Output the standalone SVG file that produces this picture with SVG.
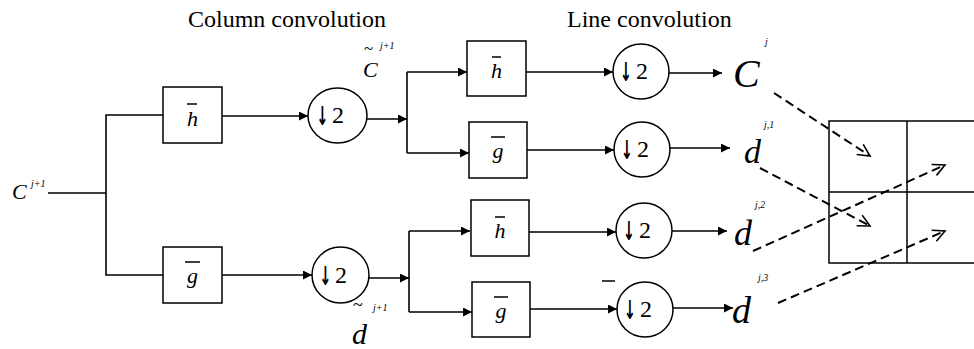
<svg xmlns="http://www.w3.org/2000/svg" width="974" height="349" viewBox="0 0 974 349">
<style>
text{font-family:"Liberation Serif","Times New Roman",serif;fill:#000}
.title{font-size:24px}
.it{font-style:italic}
.sup{font-size:10px;font-style:italic}
.box{fill:#fff;stroke:#000;stroke-width:1.5}
.ds{fill:#fff;stroke:#000;stroke-width:1.5}
.lbl{font-size:22px;font-style:italic}
.dn{font-size:24px}
.arr{font-family:"DejaVu Sans",sans-serif;font-size:26px;font-weight:bold}
.bar{stroke:#000;stroke-width:1.5}
.w{fill:none;stroke:#000;stroke-width:1.6}
.wa{fill:none;stroke:#000;stroke-width:1.6;marker-end:url(#ah)}
.dash{fill:none;stroke:#000;stroke-width:2;stroke-dasharray:9 5;marker-end:url(#oh)}
</style>
<defs>
<marker id="ah" markerUnits="userSpaceOnUse" markerWidth="10" markerHeight="10" refX="9" refY="4.5" orient="auto">
<path d="M0,0 L9,4.5 L0,9 Z" fill="#000"/>
</marker>
<marker id="oh" markerUnits="userSpaceOnUse" markerWidth="16" markerHeight="16" refX="13" refY="7" orient="auto">
<path d="M1,1 L13,7 L1,13" fill="none" stroke="#000" stroke-width="1.6"/>
</marker>
</defs>
<rect width="974" height="349" fill="#fff"/>

<g id="titles">
<text class="title" x="188" y="27">Column convolution</text>
<text class="title" x="567" y="27">Line convolution</text>
</g>

<g id="connectors">
<polyline class="w" points="48,193 106,193"/>
<polyline class="w" points="163,115 106,115 106,275 163,275"/>
<line class="wa" x1="222" y1="116" x2="308" y2="116"/>
<line class="wa" x1="222" y1="275" x2="312" y2="275"/>
<line class="wa" x1="367" y1="119" x2="407" y2="119"/>
<line class="w" x1="407" y1="72" x2="407" y2="153"/>
<line class="wa" x1="407" y1="72" x2="467" y2="72"/>
<line class="wa" x1="407" y1="153" x2="469" y2="153"/>
<line class="wa" x1="369" y1="278" x2="409" y2="278"/>
<line class="w" x1="409" y1="231" x2="409" y2="312"/>
<line class="wa" x1="409" y1="231" x2="470" y2="231"/>
<line class="wa" x1="409" y1="312" x2="472" y2="312"/>
<line class="wa" x1="526" y1="72" x2="613" y2="72"/>
<line class="wa" x1="527" y1="150" x2="614" y2="150"/>
<line class="wa" x1="529" y1="232" x2="616" y2="232"/>
<line class="wa" x1="530" y1="309" x2="617" y2="309"/>
<line class="wa" x1="669" y1="73" x2="722" y2="73"/>
<line class="wa" x1="670" y1="148" x2="730" y2="148"/>
<line class="wa" x1="672" y1="231" x2="727" y2="231"/>
<line class="wa" x1="673" y1="308" x2="733" y2="308"/>
<line class="dash" x1="774" y1="93" x2="870" y2="156"/>
<line class="dash" x1="760" y1="168" x2="870" y2="226"/>
<line class="dash" x1="753" y1="251" x2="945" y2="165"/>
<line class="dash" x1="778" y1="303" x2="945" y2="231"/>
</g>

<g id="input">
<text class="it" x="12" y="199" font-size="22">C</text>
<text class="sup" x="31" y="187">j+1</text>
</g>

<g id="h1">
<rect class="box" x="163" y="87" width="59" height="56"/>
<text class="lbl" x="192.5" y="126" text-anchor="middle">h</text>
<line class="bar" x1="187" y1="104" x2="197" y2="104"/>
</g>
<g id="g1">
<rect class="box" x="163" y="247" width="59" height="56"/>
<text class="lbl" x="192.5" y="283" text-anchor="middle">g</text>
<line class="bar" x1="185" y1="262" x2="200" y2="262"/>
</g>

<g id="ds1">
<ellipse class="ds" cx="337.5" cy="115.5" rx="29.5" ry="27.5"/>
<text class="arr" transform="translate(322.5,125) scale(0.55,1)" text-anchor="middle">↓</text>
<text class="dn" x="332" y="123">2</text>
</g>
<g id="ds2">
<ellipse class="ds" cx="340.5" cy="275" rx="28.5" ry="28"/>
<text class="arr" transform="translate(325.5,285) scale(0.55,1)" text-anchor="middle">↓</text>
<text class="dn" x="335" y="283">2</text>
</g>

<g id="ctilde">
<text x="364" y="54" font-size="17">~</text>
<text class="sup" x="380" y="49" font-size="9">j+1</text>
<text class="it" x="363" y="77" font-size="22">C</text>
</g>
<g id="dtilde">
<text x="353" y="311" font-size="18">~</text>
<text class="sup" x="373" y="311" font-size="11">j+1</text>
<text class="it" x="352" y="344" font-size="30">d</text>
</g>

<g id="h2">
<rect class="box" x="467" y="41" width="59" height="55"/>
<text class="lbl" x="496.5" y="78" text-anchor="middle">h</text>
<line class="bar" x1="492" y1="57" x2="501" y2="57"/>
</g>
<g id="g2">
<rect class="box" x="469" y="122" width="58" height="56"/>
<text class="lbl" x="498" y="158" text-anchor="middle">g</text>
<line class="bar" x1="491" y1="137" x2="505" y2="137"/>
</g>
<g id="h3">
<rect class="box" x="471" y="200" width="58" height="56"/>
<text class="lbl" x="500" y="238" text-anchor="middle">h</text>
<line class="bar" x1="495" y1="217" x2="505" y2="217"/>
</g>
<g id="g3">
<rect class="box" x="472" y="282" width="58" height="55"/>
<text class="lbl" x="501" y="318" text-anchor="middle">g</text>
<line class="bar" x1="494" y1="297" x2="508" y2="297"/>
</g>

<g id="ds3">
<ellipse class="ds" cx="641" cy="71.5" rx="28" ry="27.5"/>
<text class="arr" transform="translate(626,81) scale(0.55,1)" text-anchor="middle">↓</text>
<text class="dn" x="636" y="79">2</text>
</g>
<g id="ds4">
<ellipse class="ds" cx="642" cy="149.5" rx="28" ry="27.5"/>
<text class="arr" transform="translate(627,159) scale(0.55,1)" text-anchor="middle">↓</text>
<text class="dn" x="637" y="157">2</text>
</g>
<g id="ds5">
<ellipse class="ds" cx="644" cy="230.5" rx="28" ry="27.5"/>
<text class="arr" transform="translate(629,240) scale(0.55,1)" text-anchor="middle">↓</text>
<text class="dn" x="639" y="238">2</text>
</g>
<g id="ds6">
<ellipse class="ds" cx="645" cy="309.5" rx="28" ry="27.5"/>
<text class="arr" transform="translate(630,319) scale(0.55,1)" text-anchor="middle">↓</text>
<text class="dn" x="640" y="317">2</text>
</g>
<line class="bar" x1="602" y1="281" x2="615" y2="281"/>

<g id="cj">
<text class="it" x="733" y="87" font-size="40">C</text>
<text class="sup" x="765" y="45">j</text>
</g>
<g id="dj1">
<text class="it" x="744" y="163" font-size="34">d</text>
<text class="sup" x="764" y="128">j,1</text>
</g>
<g id="dj2">
<text class="it" x="734" y="245" font-size="36">d</text>
<text class="sup" x="755" y="208">j,2</text>
</g>
<g id="dj3">
<text class="it" x="732" y="323" font-size="38">d</text>
<text class="sup" x="758" y="281">j,3</text>
</g>

<g id="grid">
<rect x="829" y="121" width="160" height="142" fill="none" stroke="#000" stroke-width="1.5"/>
<line class="bar" x1="829" y1="192" x2="974" y2="192"/>
<line class="bar" x1="907" y1="121" x2="907" y2="263"/>
</g>
</svg>
